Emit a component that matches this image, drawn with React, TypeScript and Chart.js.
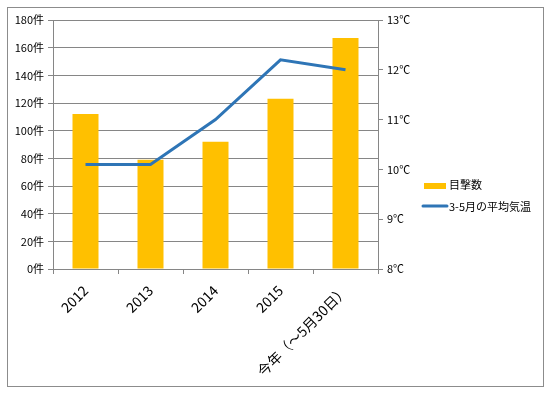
import React, { useEffect, useRef } from "react";
import { Chart, registerables } from "chart.js";

Chart.register(...registerables);

const categories = ["2012", "2013", "2014", "2015", "今年（～5月30日）"];
const sightings = [112, 79, 92, 123, 167];
const avgTemp = [10.1, 10.1, 11.0, 12.2, 12.0];
const seriesLabels = ["目撃数", "3-5月の平均気温"];
const countTickUnit = "件";
const tempTickUnit = "℃";

const FONT = "'Noto Sans CJK JP', 'Noto Sans', sans-serif";
const GRID = "#868686";
const BAR_COLOR = "#FFC000";
const LINE_COLOR = "#2E75B6";

const framePlugin = {
  id: "frameAndLegend",
  afterDraw(chart: any) {
    const ctx = chart.ctx;
    ctx.save();
    ctx.strokeStyle = "#8c8c8c";
    ctx.lineWidth = 1;
    ctx.strokeRect(7.5, 7.5, 536, 379);

    // legend
    const x0 = 424;
    const rows = [183, 206];
    ctx.font = `11px ${FONT}`;
    ctx.textBaseline = "middle";
    // bar swatch
    const ds0 = chart.data.datasets[0];
    ctx.fillStyle = ds0.backgroundColor;
    ctx.fillRect(x0, rows[0], 22, 6);
    ctx.fillStyle = "#000";
    ctx.fillText(ds0.label, x0 + 25, rows[0] + 2);
    // line swatch
    const ds1 = chart.data.datasets[1];
    ctx.strokeStyle = ds1.borderColor;
    ctx.lineWidth = 3;
    ctx.lineCap = "round";
    ctx.beginPath();
    ctx.moveTo(x0 - 1, rows[1]);
    ctx.lineTo(x0 + 23, rows[1]);
    ctx.stroke();
    ctx.fillStyle = "#000";
    ctx.fillText(ds1.label, x0 + 25, rows[1] + 0.5);
    ctx.restore();
  },
};

export default function App() {
  const ref = useRef<HTMLCanvasElement | null>(null);

  useEffect(() => {
    document.body.style.margin = "0";
    const canvas = ref.current;
    if (!canvas) return;
    const chart = new Chart(canvas, {
      type: "bar",
      data: {
        labels: categories,
        datasets: [
          {
            type: "bar",
            label: seriesLabels[0],
            data: sightings,
            backgroundColor: BAR_COLOR,
            borderWidth: 0,
            barPercentage: 0.4,
            categoryPercentage: 1,
            yAxisID: "y",
            order: 2,
          } as any,
          {
            type: "line",
            label: seriesLabels[1],
            data: avgTemp,
            borderColor: LINE_COLOR,
            backgroundColor: LINE_COLOR,
            borderWidth: 3,
            pointRadius: 0,
            tension: 0,
            fill: false,
            yAxisID: "y1",
            order: 1,
          } as any,
        ],
      },
      options: {
        responsive: false,
        animation: false,
        devicePixelRatio: 1,
        layout: { padding: { top: 20, left: 0, right: 0, bottom: 0 } },
        plugins: {
          legend: { display: false },
          tooltip: { enabled: false },
        },
        scales: {
          x: {
            type: "category",
            offset: true,
            grid: {
              offset: true,
              drawOnChartArea: false,
              drawTicks: true,
              tickLength: 5,
              color: GRID,
            },
            border: { display: true, color: GRID },
            ticks: {
              autoSkip: false,
              maxRotation: 45,
              minRotation: 45,
              padding: 8,
              color: "#000",
              font: { family: FONT, size: 14 },
            },
            afterFit(scale: any) {
              scale.height = 124;
            },
          },
          y: {
            type: "linear",
            position: "left",
            min: 0,
            max: 180,
            ticks: {
              stepSize: 20,
              color: "#000",
              padding: 4,
              font: { family: FONT, size: 11 },
              callback: (v: any) => `${v}${countTickUnit}`,
            },
            grid: { color: GRID, tickLength: 5 },
            border: { display: true, color: GRID },
            afterFit(scale: any) {
              scale.width = 53;
            },
          },
          y1: {
            type: "linear",
            position: "right",
            min: 8,
            max: 13,
            ticks: {
              stepSize: 1,
              color: "#000",
              padding: 4,
              font: { family: FONT, size: 11 },
              callback: (v: any) => `${v}${tempTickUnit}`,
            },
            grid: { drawOnChartArea: false, color: GRID, tickLength: 5 },
            border: { display: true, color: GRID },
            afterFit(scale: any) {
              scale.width = 171;
            },
          },
        },
      } as any,
      plugins: [framePlugin],
    });
    return () => chart.destroy();
  }, []);

  return (
    <div style={{ width: 549, height: 393, background: "#fff" }}>
      <canvas ref={ref} width={549} height={393} style={{ display: "block" }} />
    </div>
  );
}
